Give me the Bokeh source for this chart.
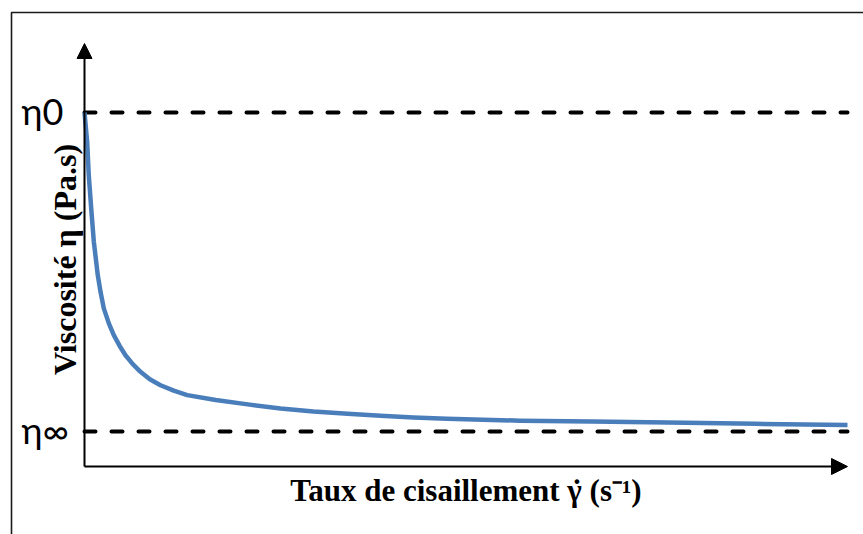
import math
from bokeh.plotting import figure
from bokeh.models import Range1d, Arrow, NormalHead
from bokeh.core.properties import value
from bokeh.embed import file_html
from bokeh.resources import INLINE

# ---------------- data ----------------
shear_rate = [0, 0.35, 0.56, 0.88, 1.22, 1.74, 2.10, 2.53, 3.19, 3.84, 4.59,
              5.37, 6.33, 7.34, 8.56, 9.96, 11.7, 13.46, 17.2, 21.4, 25.7,
              30.0, 34.5, 38.8, 43.1, 47.5, 57.1, 66.5, 76.4, 88.0, 100]
viscosity = [100, 90.8, 80.3, 69.9, 59.5, 49.0, 43.8, 38.6, 33.9, 30.2, 26.9,
             23.9, 21.1, 18.7, 16.4, 14.5, 12.8, 11.4, 9.9, 8.5, 7.2,
             6.3, 5.6, 4.9, 4.4, 4.0, 3.4, 3.1, 2.8, 2.4, 2.0]
level_names = ["η0", "η∞"]
level_values = [100, 0]
x_title = "Taux de cisaillement γ (s⁻¹)"
x_title_accent = "˙"
y_title = "Viscosité η (Pa.s)"

# ---------------- layout (page pixels) ----------------
W, H = 863, 534
PAGE = 0
PX_X0, PX_X1 = 84, 847        # page px of x = 0 and x = 100
PX_Y100, PX_Y0 = 112, 431     # page px of y = 100 and y = 0
sx = (PX_X1 - PX_X0) / 100.0
sy = (PX_Y0 - PX_Y100) / 100.0


def dx(px):
    return (px - PX_X0) / sx


def dy(py):
    return (PX_Y0 - py) / sy


x_start, x_end = dx(PAGE), dx(PAGE + W)
y_start, y_end = dy(PAGE + H), dy(PAGE)

p = figure(width=W, height=H, output_backend="svg", toolbar_location=None,
           x_axis_type=None, y_axis_type=None,
           x_range=Range1d(x_start, x_end), y_range=Range1d(y_start, y_end),
           min_border=0, outline_line_color=None,
           background_fill_color="white", border_fill_color="white")
p.xgrid.visible = False
p.ygrid.visible = False

# outer frame (left and top edges)
p.line([x_end, dx(11), dx(11)], [dy(12), dy(12), y_start],
       line_color="#1a1a1a", line_width=1.6)

xmax = max(shear_rate)
xmin = min(shear_rate)

# dashed reference levels
p.segment(x0=[xmin] * len(level_values), x1=[xmax] * len(level_values),
          y0=level_values, y1=level_values,
          line_color="black", line_width=4, line_dash="11 16", line_cap="round")

# axes with arrows
y_axis_bottom = dy(466)
p.add_layout(Arrow(x_start=xmin, y_start=y_axis_bottom, x_end=xmin, y_end=dy(43),
                   line_color="black", line_width=2,
                   end=NormalHead(size=15, fill_color="black", line_color="black", line_width=1)))
p.add_layout(Arrow(x_start=xmin, y_start=y_axis_bottom, x_end=xmax, y_end=y_axis_bottom,
                   line_color="black", line_width=2,
                   end=NormalHead(size=16, fill_color="black", line_color="black", line_width=1)))

# viscosity curve
p.line(shear_rate, viscosity, line_color="#4A7EBB", line_width=4.5,
       line_join="round")

# level labels
p.text(x=[xmin], y=[level_values[0]], text=[level_names[0]], x_offset=-63, y_offset=-2,
       text_align="left", text_baseline="alphabetic",
       text_font=value("Lato"), text_font_size="36px", text_color="black")
p.text(x=[xmin], y=[level_values[1]], text=[level_names[1]], x_offset=-63, y_offset=-2,
       text_align="left", text_baseline="alphabetic",
       text_font=value("Lato"), text_font_size="36px", text_color="black")

# axis titles
xc = (xmin + xmax) / 2
p.text(x=[xc], y=[dy(490)], text=[x_title],
       text_align="center", text_baseline="alphabetic",
       text_font=value("Liberation Serif"), text_font_style="bold",
       text_font_size="31px", text_color="black")
p.text(x=[xc], y=[dy(490)], text=[x_title_accent], x_offset=111,
       text_align="center", text_baseline="alphabetic",
       text_font=value("Liberation Serif"), text_font_style="bold",
       text_font_size="31px", text_color="black")
p.text(x=[dx(64)], y=[dy(259)], text=[y_title], angle=math.pi / 2,
       text_align="center", text_baseline="middle",
       text_font=value("Liberation Serif"), text_font_style="bold",
       text_font_size="32px", text_color="black")

open("out.html", "w").write(file_html(p, INLINE))
